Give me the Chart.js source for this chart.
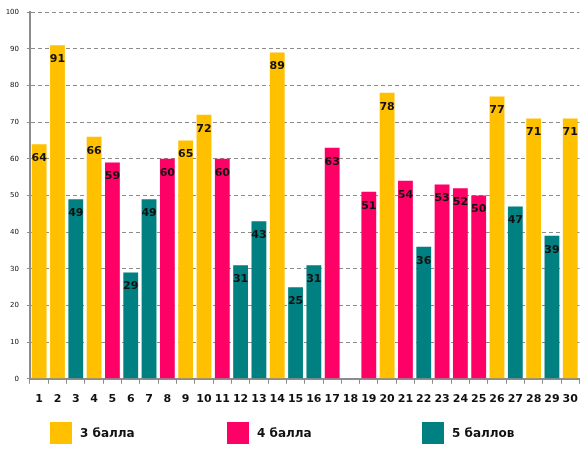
<!DOCTYPE html>
<html lang="ru">
<head>
  <meta charset="UTF-8" />
  <title>Баллы по номерам</title>
  <script src="https://cdn.jsdelivr.net/npm/chart.js"></script>
  <style>
    html, body {
      margin: 0;
      padding: 0;
      background: #fff;
    }
    .wrap {
      width: 587px;
      height: 455px;
      position: relative;
    }
  </style>
</head>
<body>
  <div class="wrap">
    <canvas id="chart"></canvas>
  </div>

  <script>
    const labels = ['1','2','3','4','5','6','7','8','9','10','11','12','13','14','15',
                    '16','17','18','19','20','21','22','23','24','25','26','27','28','29','30'];

    // 3 балла
    const grade3 = [64, 91, null, 66, null, null, null, null, 65, 72, null, null, null, 89, null,
                    null, null, null, null, 78, null, null, null, null, null, 77, null, 71, null, 71];
    // 4 балла
    const grade4 = [null, null, null, null, 59, null, null, 60, null, null, 60, null, null, null, null,
                    null, 63, null, 51, null, 54, null, 53, 52, 50, null, null, null, null, null];
    // 5 баллов
    const grade5 = [null, null, 49, null, null, 29, 49, null, null, null, null, 31, 43, null, 25,
                    31, null, null, null, null, null, 36, null, null, null, null, 47, null, 39, null];

    const yTicks = [0, 10, 20, 30, 40, 50, 60, 70, 80, 90, 100];

    // labels drawn inside the bars, a bit below the top
    const barLabels = {
      id: 'barLabels',
      afterDatasetsDraw(chart) {
        const ctx = chart.ctx;
        ctx.save();
        ctx.font = 'bold 11px "DejaVu Sans"';
        ctx.fillStyle = '#111';
        ctx.textAlign = 'center';
        ctx.textBaseline = 'middle';
        chart.data.datasets.forEach((ds, i) => {
          chart.getDatasetMeta(i).data.forEach((bar, j) => {
            const v = ds.data[j];
            if (v === null) return;
            ctx.fillText(v, bar.x, bar.y + 14);
          });
        });
        ctx.restore();
      }
    };

    // legend spread out along the bottom like the original
    const legendStarts = [0.085, 0.387, 0.719];
    const bottomLegend = {
      id: 'bottomLegend',
      afterDraw(chart) {
        const ctx = chart.ctx;
        const y = chart.height - 33;
        ctx.save();
        ctx.font = 'bold 12px "DejaVu Sans"';
        ctx.textBaseline = 'middle';
        ctx.textAlign = 'left';
        chart.data.datasets.forEach((ds, i) => {
          const x = Math.round(chart.width * legendStarts[i]);
          ctx.fillStyle = ds.backgroundColor;
          ctx.fillRect(x, y, 22, 22);
          ctx.fillStyle = '#111';
          ctx.fillText(ds.label, x + 30, y + 12);
        });
        ctx.restore();
      }
    };

    new Chart(document.getElementById('chart'), {
      type: 'bar',
      data: {
        labels: labels,
        datasets: [
          { label: '3 балла', data: grade3, backgroundColor: '#FFC000' },
          { label: '4 балла', data: grade4, backgroundColor: '#FF0066' },
          { label: '5 баллов', data: grade5, backgroundColor: '#008080' }
        ]
      },
      options: {
        responsive: true,
        maintainAspectRatio: false,
        animation: false,
        grouped: false,
        categoryPercentage: 1,
        barPercentage: 0.81,
        layout: { padding: { top: 7, right: 5, left: 0, bottom: 40 } },
        plugins: {
          tooltip: { enabled: false },
          legend: { display: false }
        },
        scales: {
          x: {
            grid: {
              display: true,
              drawOnChartArea: false,
              color: '#8c8c8c',
              tickLength: 5
            },
            border: { color: '#8c8c8c', width: 2 },
            ticks: {
              color: '#111',
              padding: 9,
              maxRotation: 0,
              autoSkip: false,
              font: { family: '"DejaVu Sans"', size: 11, weight: 'bold' }
            }
          },
          y: {
            min: 0,
            max: 100,
            afterFit(scale) { scale.width = 30; },
            afterBuildTicks(scale) { scale.ticks = yTicks.map(v => ({ value: v })); },
            grid: {
              color: '#8c8c8c',
              tickLength: 3
            },
            border: { color: '#8c8c8c', width: 2, dash: [4, 3] },
            ticks: {
              color: '#111',
              padding: 8,
              font: { family: '"DejaVu Sans"', size: 7 }
            }
          }
        }
      },
      plugins: [barLabels, bottomLegend]
    });
  </script>
</body>
</html>
